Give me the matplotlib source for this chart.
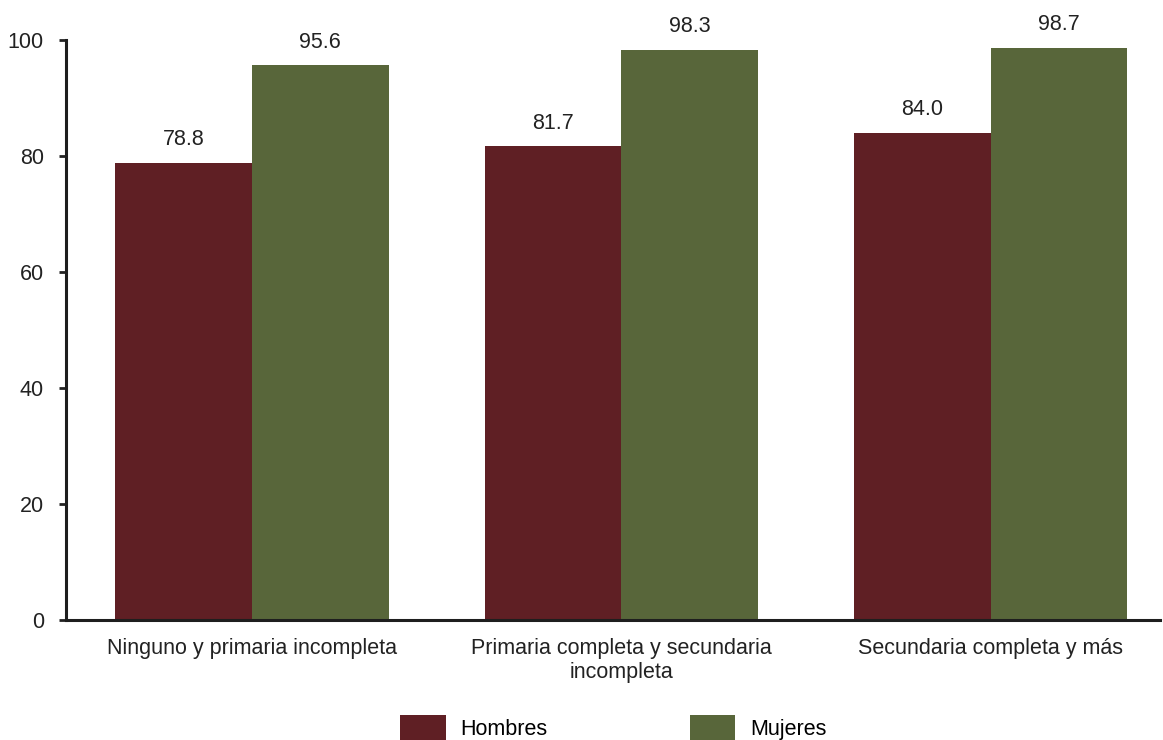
import numpy as np
import matplotlib
matplotlib.use("Agg")
import matplotlib.pyplot as plt

plt.rcParams['font.family'] = ['Liberation Sans', 'DejaVu Sans']

CATEGORIES = [
    "Ninguno y primaria incompleta",
    "Primaria completa y secundaria\nincompleta",
    "Secundaria completa y más",
]
HOMBRES = [78.8, 81.7, 84.0]
MUJERES = [95.6, 98.3, 98.7]
SERIES = ["Hombres", "Mujeres"]
COLORS = ["#5F1F24", "#58663A"]

FS = 15.5

fig = plt.figure(figsize=(11.63, 7.40), dpi=100)
ax = fig.add_axes([0.0568, 0.162, 0.9402, 0.784])

x = np.arange(len(CATEGORIES))
width = 0.37

bars_h = ax.bar(x - width / 2, HOMBRES, width, color=COLORS[0], label=SERIES[0])
bars_m = ax.bar(x + width / 2, MUJERES, width, color=COLORS[1], label=SERIES[1])

for bars in (bars_h, bars_m):
    ax.bar_label(bars, labels=[f"{v:.1f}" for v in bars.datavalues],
                 padding=9, fontsize=FS, color="#222222")

ax.set_xlim(-0.503, 2.457)
ax.set_ylim(0, 100)
ax.set_yticks(np.arange(0, 101, 20))
ax.set_xticks(x)
ax.set_xticklabels(CATEGORIES, fontsize=FS, color="#222222", linespacing=1.15)
ax.tick_params(axis='x', length=0, pad=13)
ax.tick_params(axis='y', direction='out', length=5, width=2, labelsize=FS,
               labelcolor="#222222", color="#222222", pad=11)

# Only left and bottom axes
ax.spines['top'].set_visible(False)
ax.spines['right'].set_visible(False)
ax.spines['left'].set_linewidth(2.2)
ax.spines['bottom'].set_linewidth(2.2)
ax.spines['left'].set_color("#1e1e1e")
ax.spines['bottom'].set_color("#1e1e1e")

fig.legend(handles=[bars_h, bars_m], labels=SERIES, loc='center',
           bbox_to_anchor=(0.5275, 0.016), ncol=2, frameon=False,
           fontsize=FS, handlelength=2.1, handleheight=1.5,
           handletextpad=0.7, columnspacing=6.6)

fig.savefig("out.png", dpi=100)
